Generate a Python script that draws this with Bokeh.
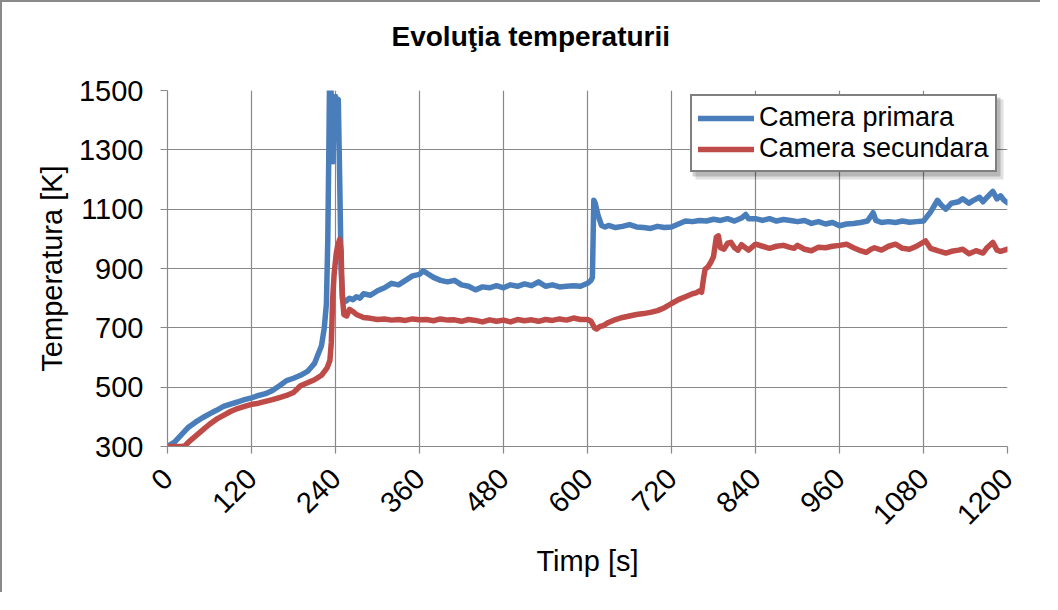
import math
from bokeh.plotting import figure
from bokeh.models import (Range1d, FixedTicker, Legend, LegendItem, BoxAnnotation, Title)
from bokeh.embed import file_html
from bokeh.resources import INLINE

# ---------------- data ----------------
time_primary = [0, 10, 20, 30, 40, 50, 60, 70, 80, 90, 100, 110, 120, 130, 140, 150, 160, 170, 180, 190,
                200, 210, 215, 220, 224, 227, 229, 230.5, 231.5, 233, 235, 236.5, 238, 240, 242, 244, 246, 248,
                250, 255, 260, 265, 270, 275, 280, 290, 300, 310, 320, 330, 340, 350, 360, 365, 370, 380, 390,
                400, 410, 420, 430, 440, 450, 460, 470, 480, 490, 500, 510, 520, 530, 540, 550, 560, 570, 580,
                590, 600, 605, 607, 609, 611, 615, 620, 625, 630, 640, 650, 660, 670, 680, 690, 700, 710, 720,
                730, 740, 750, 760, 770, 780, 790, 800, 810, 820, 826, 830, 840, 850, 860, 870, 880, 890, 900,
                910, 920, 930, 940, 950, 960, 970, 980, 990, 1000, 1008, 1012, 1020, 1030, 1040, 1050, 1060,
                1070, 1080, 1090, 1100, 1105, 1112, 1120, 1130, 1136, 1145, 1150, 1160, 1165, 1170, 1179, 1185,
                1190, 1195, 1200]
temp_primary = [300, 315, 340, 365, 382, 397, 410, 422, 435, 443, 450, 458, 464, 472, 478, 489, 505, 522, 530, 540,
                553, 580, 610, 640, 700, 780, 1000, 1300, 1540, 1540, 1400, 1260, 1420, 1480, 1460, 1470, 1200, 900,
                797, 790, 800, 795, 805, 800, 815, 810, 825, 835, 850, 845, 860, 875, 880, 892, 885, 870, 860,
                855, 860, 845, 840, 828, 838, 835, 842, 835, 845, 840, 848, 842, 855, 840, 845, 838, 840, 842,
                840, 850, 860, 870, 1130, 1120, 1080, 1045, 1040, 1045, 1038, 1042, 1048, 1040, 1038, 1035, 1042, 1038, 1040,
                1050, 1060, 1058, 1062, 1060, 1066, 1062, 1068, 1060, 1070, 1082, 1068, 1068, 1062, 1068, 1060, 1065, 1062, 1058,
                1062, 1052, 1058, 1050, 1055, 1044, 1050, 1052, 1055, 1060, 1088, 1062, 1055, 1058, 1055, 1060, 1056,
                1058, 1060, 1090, 1130, 1115, 1100, 1120, 1125, 1135, 1120, 1128, 1140, 1125, 1138, 1160, 1135,
                1145, 1130, 1122]

time_secondary = [0, 10, 20, 25, 30, 40, 50, 60, 70, 80, 90, 100, 110, 120, 130, 140, 150, 160, 170, 180, 190,
                  200, 210, 220, 228, 232, 234, 236, 238, 241, 243, 246, 248, 249, 250, 252, 256, 260, 265, 270,
                  275, 280, 290, 300, 310, 320, 330, 340, 350, 360, 370, 380, 390, 400, 410, 420, 430, 440, 450,
                  460, 470, 480, 490, 500, 510, 520, 530, 540, 550, 560, 570, 580, 590, 600, 605, 610, 613, 618,
                  622, 630, 640, 650, 660, 670, 680, 690, 700, 710, 720, 730, 740, 750, 755, 760, 763, 766, 768,
                  772, 776, 780, 784, 787, 790, 795, 800, 805, 810, 815, 820, 830, 840, 850, 860, 870, 880, 888,
                  895, 900, 910, 920, 930, 940, 950, 960, 970, 980, 990, 998, 1005, 1010, 1020, 1030, 1040, 1050,
                  1060, 1070, 1083, 1090, 1100, 1112, 1120, 1130, 1136, 1145, 1155, 1165, 1170, 1179, 1185, 1190, 1200]
temp_secondary = [300, 300, 300, 302, 315, 335, 355, 375, 392, 405, 418, 428, 435, 442, 446, 452, 458, 465, 472, 482, 505,
                  515, 525, 540, 565, 590, 650, 800, 880, 950, 975, 998, 960, 860, 800, 745, 740, 762, 755, 745,
                  740, 735, 732, 728, 730, 726, 728, 725, 730, 727, 728, 724, 730, 726, 727, 722, 728, 725, 720,
                  727, 722, 726, 720, 728, 724, 727, 722, 728, 725, 730, 726, 733, 728, 728, 722, 700, 696, 705,
                  707, 718, 728, 735, 740, 745, 748, 752, 758, 768, 782, 795, 805, 815, 818, 825, 820, 870, 898,
                  905, 920, 940, 1005, 1010, 970, 965, 985, 988, 970, 962, 980, 962, 982, 975, 968, 975, 978, 972,
                  968, 978, 965, 960, 972, 970, 975, 978, 982, 970, 960, 954, 965, 970, 962, 975, 982, 968,
                  965, 975, 993, 968, 960, 952, 958, 962, 965, 950, 960, 952, 968, 988, 962, 958, 965]

x_ticks = [0, 120, 240, 360, 480, 600, 720, 840, 960, 1080, 1200]
y_ticks = [300, 500, 700, 900, 1100, 1300, 1500]

title_text = "Evoluţia temperaturii"
x_label = "Timp [s]"
y_label = "Temperatura [K]"
series_names = ["Camera primara", "Camera secundara"]
series_colors = ["#4A7EBB", "#BE4B48"]

FONT = "Liberation Sans"
GRID = "#888888"

p = figure(width=1040, height=592, output_backend="svg", toolbar_location=None, title=None,
           x_range=Range1d(0, 1200), y_range=Range1d(300, 1500),
           min_border_left=165, min_border_right=35, min_border_top=88, min_border_bottom=148,
           background_fill_color="white", border_fill_color="white")
p.styles = {"border-left": "2px solid #8a8a8a", "border-top": "2px solid #8a8a8a"}
p.outline_line_color = None

# title: an invisible spacer next to the frame, then the real title above it
p.add_layout(Title(text=" ", text_font_size="2px", standoff=35, text_color="white"), "above")
p.add_layout(Title(text=title_text, align="left", offset=224, standoff=0,
                   text_font=FONT, text_font_size="28px", text_font_style="bold",
                   text_color="black"), "above")

# grid
p.xgrid.ticker = FixedTicker(ticks=x_ticks)
p.ygrid.ticker = FixedTicker(ticks=y_ticks)
for g in (p.xgrid[0], p.ygrid[0]):
    g.grid_line_color = GRID
    g.grid_line_width = 1.2

# axes
xa = p.xaxis[0]
ya = p.yaxis[0]
xa.ticker = FixedTicker(ticks=x_ticks)
ya.ticker = FixedTicker(ticks=y_ticks)
for ax in (xa, ya):
    ax.axis_line_color = GRID
    ax.axis_line_width = 1.2
    ax.major_tick_line_color = GRID
    ax.major_tick_line_width = 1.2
    ax.major_tick_out = 7
    ax.major_tick_in = 0
    ax.minor_tick_line_color = None
    ax.major_label_text_font = FONT
    ax.major_label_text_font_size = "29px"
    ax.major_label_text_color = "black"
    ax.axis_label_text_font = FONT
    ax.axis_label_text_font_size = "29px"
    ax.axis_label_text_font_style = "normal"
    ax.axis_label_text_color = "black"
xa.axis_label = x_label
ya.axis_label = y_label
xa.major_label_orientation = math.pi / 4
xa.major_label_standoff = 20
ya.major_label_standoff = 17
xa.axis_label_standoff = 9
ya.axis_label_standoff = 8

# lines
rb = p.line(time_primary, temp_primary, line_color=series_colors[0], line_width=5.5,
            line_join="round", line_cap="round")
rr = p.line(time_secondary, temp_secondary, line_color=series_colors[1], line_width=5.5,
            line_join="round", line_cap="round")

# legend shadow
p.add_layout(BoxAnnotation(left=528, right=836, bottom=267, top=347,
                           left_units="screen", right_units="screen",
                           bottom_units="screen", top_units="screen",
                           fill_color="#000000", fill_alpha=0.12, line_color=None))
p.add_layout(BoxAnnotation(left=525, right=833, bottom=270, top=349,
                           left_units="screen", right_units="screen",
                           bottom_units="screen", top_units="screen",
                           fill_color="#000000", fill_alpha=0.18, line_color=None))

legend = Legend(items=[LegendItem(label=series_names[0], renderers=[rb]),
                       LegendItem(label=series_names[1], renderers=[rr])],
                location=(523, 274), orientation="vertical",
                label_text_font=FONT, label_text_font_size="27px", label_text_color="black",
                glyph_width=56, glyph_height=28, label_height=28, label_standoff=5,
                padding=6, spacing=0, margin=0,
                border_line_color="black", border_line_width=2,
                background_fill_color="white", background_fill_alpha=1.0)
p.add_layout(legend, "center")

open("out.html", "w").write(file_html(p, INLINE))
